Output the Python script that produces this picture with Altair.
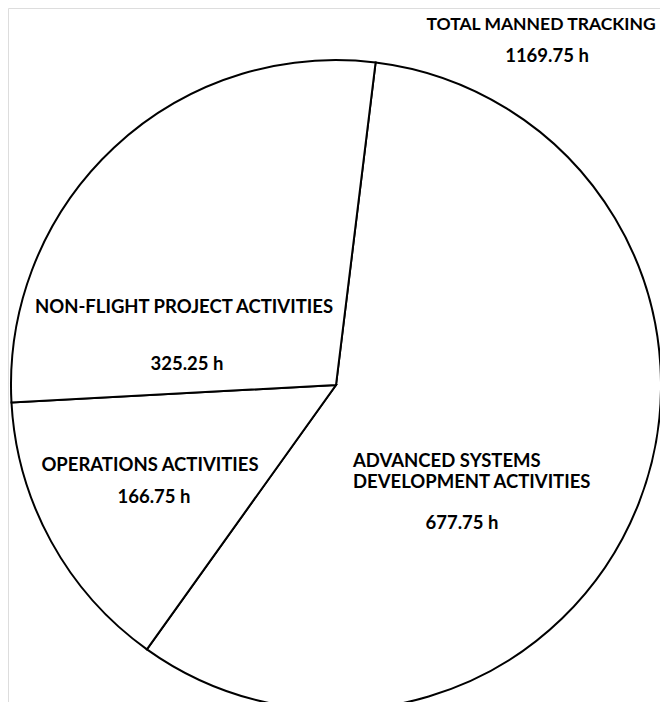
import math
import altair as alt
import pandas as pd

# ---- data ----
categories = [
    "ADVANCED SYSTEMS DEVELOPMENT ACTIVITIES",
    "OPERATIONS ACTIVITIES",
    "NON-FLIGHT PROJECT ACTIVITIES",
]
label_lines = [
    "ADVANCED SYSTEMS\nDEVELOPMENT ACTIVITIES",
    "OPERATIONS ACTIVITIES",
    "NON-FLIGHT PROJECT ACTIVITIES",
]
hours = [677.75, 166.75, 325.25]
total_title = "TOTAL MANNED TRACKING"
total_hours = 1169.75

df = pd.DataFrame({"category": categories, "hours": hours, "order": [0, 1, 2]})

FONT = "Lato"
FS = 18.5
FW = "bold"
CX, CY, R = 328, 377, 325
offset = math.radians(7)

arc = alt.Chart(df).mark_arc(
    radius=R, fill="white", stroke="black", strokeWidth=2
).encode(
    theta=alt.Theta("hours:Q", stack=True,
                    scale=alt.Scale(range=[offset, offset + 2 * math.pi])),
    order=alt.Order("order:Q"),
    x=alt.value(CX),
    y=alt.value(CY),
)


def txt(s, x, y, align="center", fs=FS, lh=20):
    return alt.Chart(pd.DataFrame({"t": [s]})).mark_text(
        x=x, y=y, align=align, baseline="alphabetic", font=FONT,
        fontSize=fs, fontWeight=FW, color="black", lineBreak="\n",
        lineHeight=lh,
    ).encode(text="t:N")


def h(v):
    return f"{v:.2f} h"


layers = [
    arc,
    txt(total_title, 533, 22, fs=17.5),
    txt(h(total_hours), 539, 54),
    txt(label_lines[2], 176, 305),
    txt(h(hours[2]), 179, 362),
    txt(label_lines[1], 142, 463),
    txt(h(hours[1]), 146, 495),
    txt(label_lines[0], 345, 459, align="left", lh=21),
    txt(h(hours[0]), 454, 521),
]

chart = alt.layer(*layers).properties(
    width=652, height=694, autosize="none", padding=0
).configure_view(stroke=None).configure(background="white")

chart.save("out.html", embed_options={"renderer": "svg", "actions": False})
